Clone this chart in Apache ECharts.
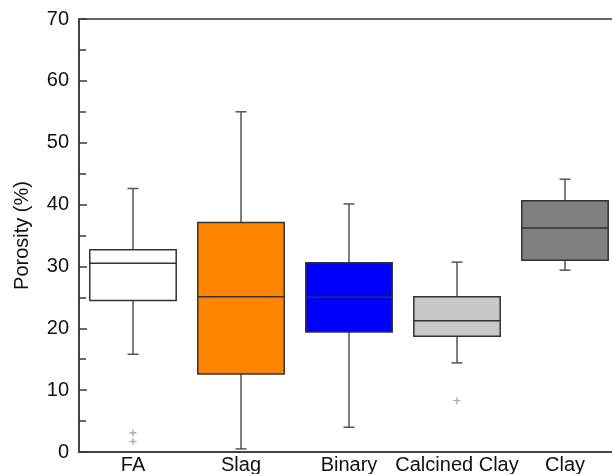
<!DOCTYPE html>
<html><head><meta charset="utf-8">
<script src="https://cdn.jsdelivr.net/npm/echarts@6/dist/echarts.min.js"></script>
<style>html,body{margin:0;padding:0;background:#fff}#c{width:612px;height:474px}</style>
</head><body><div id="c"></div>
<script>
const categories = ['FA', 'Slag', 'Binary', 'Calcined Clay', 'Clay'];
const whiskerLow = [15.8, 0.5, 4.0, 14.4, 29.4];
const q1 = [24.5, 12.6, 19.4, 18.7, 31.0];
const median = [30.5, 25.1, 25.0, 21.2, 36.2];
const q3 = [32.7, 37.1, 30.6, 25.1, 40.6];
const whiskerHigh = [42.6, 55.0, 40.1, 30.7, 44.1];
const outlierCats = ['FA', 'FA', 'Calcined Clay'];
const outlierVals = [3.1, 1.7, 8.3];
const yTicks = [0, 10, 20, 30, 40, 50, 60, 70];

const fills = ['#ffffff', '#ff8400', '#0000ff', '#c8c8c8', '#808080'];

const boxData = categories.map((c, i) => [i, whiskerLow[i], q1[i], median[i], q3[i], whiskerHigh[i]]);
const outData = outlierCats.map((c, i) => [c, outlierVals[i]]);

const chart = echarts.init(document.getElementById('c'), null, {renderer: 'canvas'});
const font = 'Arial, "Liberation Sans", sans-serif';
chart.setOption({
  animation: false,
  grid: {left: 79, width: 540, top: 19, bottom: 22, outerBoundsMode: 'none', containLabel: false,
    show: true, borderColor: '#3a3a3a', borderWidth: 1.5, backgroundColor: 'transparent'},
  xAxis: {
    type: 'category', data: categories, boundaryGap: true,
    axisLine: {lineStyle: {color: '#3a3a3a', width: 1.5}},
    axisTick: {show: false},
    axisLabel: {color: '#111', fontSize: 20, fontFamily: font, margin: 3, interval: 0, hideOverlap: false}
  },
  yAxis: {
    type: 'value', min: yTicks[0], max: yTicks[yTicks.length - 1], interval: 10,
    name: 'Porosity (%)', nameLocation: 'middle', nameGap: 47,
    nameTextStyle: {color: '#111', fontSize: 20, fontFamily: font},
    axisLine: {show: true, lineStyle: {color: '#3a3a3a', width: 1.5}},
    axisTick: {show: true, inside: true, length: 8, lineStyle: {color: '#3a3a3a', width: 1.5}},
    minorTick: {show: true, splitNumber: 2, length: 7, lineStyle: {color: '#3a3a3a', width: 1.5}},
    splitLine: {show: false},
    axisLabel: {color: '#111', fontSize: 20, fontFamily: font, margin: 10}
  },
  series: [{
    type: 'custom',
    data: boxData,
    encode: {x: 0, y: [1, 2, 3, 4, 5]},
    renderItem: function (params, api) {
      const idx = api.value(0);
      const band = api.size([1, 0])[0];
      const bw = band * 0.8;
      const cw = 11;
      const pLow = api.coord([idx, api.value(1)]);
      const pQ1 = api.coord([idx, api.value(2)]);
      const pMed = api.coord([idx, api.value(3)]);
      const pQ3 = api.coord([idx, api.value(4)]);
      const pHigh = api.coord([idx, api.value(5)]);
      const cx = pLow[0];
      const wStyle = {stroke: '#555', lineWidth: 1.5};
      const bStyle = {stroke: '#333', lineWidth: 1.5};
      return {
        type: 'group',
        children: [
          {type: 'line', shape: {x1: cx, y1: pHigh[1], x2: cx, y2: pQ3[1]}, style: wStyle},
          {type: 'line', shape: {x1: cx, y1: pQ1[1], x2: cx, y2: pLow[1]}, style: wStyle},
          {type: 'line', shape: {x1: cx - cw / 2, y1: pHigh[1], x2: cx + cw / 2, y2: pHigh[1]}, style: wStyle},
          {type: 'line', shape: {x1: cx - cw / 2, y1: pLow[1], x2: cx + cw / 2, y2: pLow[1]}, style: wStyle},
          {type: 'rect', shape: {x: cx - bw / 2, y: pQ3[1], width: bw, height: pQ1[1] - pQ3[1]},
            style: {fill: fills[params.dataIndex], stroke: '#333', lineWidth: 1.5}},
          {type: 'line', shape: {x1: cx - bw / 2, y1: pMed[1], x2: cx + bw / 2, y2: pMed[1]}, style: bStyle}
        ]
      };
    }
  }, {
    type: 'scatter',
    data: outData,
    symbol: 'path://M4,0L6,0L6,4L10,4L10,6L6,6L6,10L4,10L4,6L0,6L0,4L4,4Z',
    symbolSize: 7,
    itemStyle: {color: '#9a9a9a'}
  }]
});
</script></body></html>
